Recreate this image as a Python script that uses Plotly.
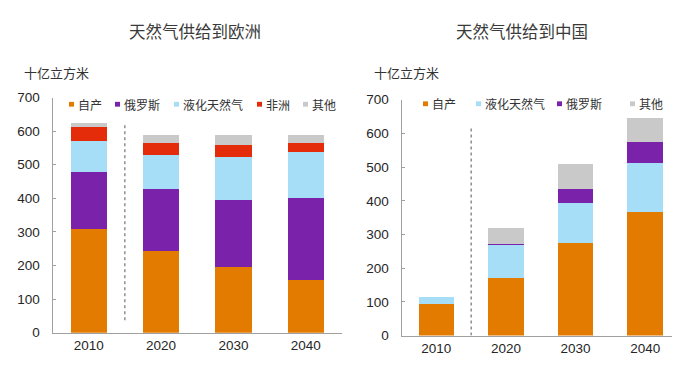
import plotly.graph_objects as go

# ---------------- data ----------------
years = ["2010", "2020", "2030", "2040"]

# Europe supply (bcm)
eu_domestic = [308, 244, 196, 158]
eu_russia = [170, 184, 199, 244]
eu_lng = [92, 100, 129, 136]
eu_africa = [42, 37, 36, 26]
eu_other = [13, 24, 29, 25]

# China supply (bcm)
cn_domestic = [95, 172, 274, 368]
cn_lng = [19, 98, 120, 143]
cn_russia = [0, 2, 40, 65]
cn_other = [0, 48, 74, 70]

yticks = [0, 100, 200, 300, 400, 500, 600, 700]

title_eu = "天然气供给到欧洲"
title_cn = "天然气供给到中国"
unit_label = "十亿立方米"

eu_names = ["自产", "俄罗斯", "液化天然气", "非洲", "其他"]
cn_names = ["自产", "液化天然气", "俄罗斯", "其他"]

# ---------------- style ----------------
C_DOM = "#E27B00"
C_RUS = "#7A22A9"
C_LNG = "#A6DEF7"
C_AFR = "#E42B0A"
C_OTH = "#C9C9C9"

FONT = "Arial, 'Liberation Sans', 'Noto Sans CJK SC', sans-serif"
CJK = "'Noto Sans CJK SC', 'Liberation Sans', sans-serif"
W, H = 680, 372

eu_series = [(eu_names[0], eu_domestic, C_DOM), (eu_names[1], eu_russia, C_RUS),
             (eu_names[2], eu_lng, C_LNG), (eu_names[3], eu_africa, C_AFR),
             (eu_names[4], eu_other, C_OTH)]
cn_series = [(cn_names[0], cn_domestic, C_DOM), (cn_names[1], cn_lng, C_LNG),
             (cn_names[2], cn_russia, C_RUS), (cn_names[3], cn_other, C_OTH)]

fig = go.Figure()
for name, vals, col in eu_series:
    fig.add_trace(go.Bar(x=years, y=vals, name=name, marker=dict(color=col, line=dict(width=0)),
                         xaxis="x", yaxis="y", showlegend=False, width=0.5))
for name, vals, col in cn_series:
    fig.add_trace(go.Bar(x=years, y=vals, name=name, marker=dict(color=col, line=dict(width=0)),
                         xaxis="x2", yaxis="y2", showlegend=False, width=0.51))

def px_x(p):
    return p / W

def px_y(p):
    return 1 - p / H

axis_common = dict(showgrid=False, zeroline=False, showline=True, linecolor="#A0A0A0", linewidth=1)
tickfont = dict(family=FONT, size=13.5, color="#262626")

fig.update_layout(
    width=W, height=H,
    margin=dict(l=0, r=0, t=0, b=0),
    paper_bgcolor="white", plot_bgcolor="white",
    barmode="stack",
    font=dict(family=FONT, size=13, color="#333333"),
    xaxis=dict(domain=[px_x(44.5), px_x(334)], range=[-0.5, 3.5], type="category",
               ticks="", ticklabelstandoff=0, tickfont=tickfont, **axis_common),
    yaxis=dict(domain=[px_y(331), px_y(86)], range=[0, 700], tickvals=yticks,
               ticks="inside", ticklen=3, tickcolor="#A0A0A0", ticklabelstandoff=9,
               tickfont=tickfont, anchor="x", **axis_common),
    xaxis2=dict(domain=[px_x(393.5), px_x(672)], range=[-0.5, 3.5], type="category",
                ticks="", ticklabelstandoff=0, tickfont=tickfont,
                anchor="y2", **axis_common),
    yaxis2=dict(domain=[px_y(334), px_y(88.3)], range=[0, 700], tickvals=yticks,
                ticks="inside", ticklen=3, tickcolor="#A0A0A0", ticklabelstandoff=9,
                tickfont=tickfont, anchor="x2", **axis_common),
)

# dotted separators between history and projections
fig.add_shape(type="line", xref="x", yref="y", x0=0.5, x1=0.5, y0=37, y1=618,
              line=dict(color="#555555", width=1, dash="dot"))
fig.add_shape(type="line", xref="x2", yref="y2", x0=0.5, x1=0.5, y0=0, y1=622,
              line=dict(color="#555555", width=1, dash="dot"))

annotations = []
# titles
annotations.append(dict(text=title_eu, x=px_x(187), y=px_y(17), xref="paper", yref="paper",
                        showarrow=False, xanchor="center", yanchor="middle",
                        font=dict(family=CJK, size=16.5, color="#3A3A3A")))
annotations.append(dict(text=title_cn, x=px_x(514), y=px_y(17), xref="paper", yref="paper",
                        showarrow=False, xanchor="center", yanchor="middle",
                        font=dict(family=CJK, size=16.5, color="#3A3A3A")))
# unit labels
annotations.append(dict(text=unit_label, x=px_x(14), y=px_y(60), xref="paper", yref="paper",
                        showarrow=False, xanchor="left", yanchor="middle",
                        font=dict(family=CJK, size=13, color="#333333")))
annotations.append(dict(text=unit_label, x=px_x(364), y=px_y(60), xref="paper", yref="paper",
                        showarrow=False, xanchor="left", yanchor="middle",
                        font=dict(family=CJK, size=13, color="#333333")))

# custom legends (small squares + text)
eu_leg_x = [69, 115, 174, 257, 303]
cn_leg_x = [423, 476, 557, 630]
shapes = []
for (name, _, col), tx in zip(eu_series, eu_leg_x):
    shapes.append(dict(type="rect", xref="paper", yref="paper", x0=px_x(tx - 8), x1=px_x(tx - 3),
                       y0=px_y(95.5), y1=px_y(90.5), fillcolor=col, line=dict(width=0)))
    annotations.append(dict(text=name, x=px_x(tx - 1), y=px_y(93), xref="paper", yref="paper",
                            showarrow=False, xanchor="left", yanchor="middle",
                            font=dict(family=CJK, size=12, color="#333333")))
for (name, _, col), tx in zip(cn_series, cn_leg_x):
    shapes.append(dict(type="rect", xref="paper", yref="paper", x0=px_x(tx - 8), x1=px_x(tx - 3),
                       y0=px_y(95), y1=px_y(90), fillcolor=col, line=dict(width=0)))
    annotations.append(dict(text=name, x=px_x(tx - 1), y=px_y(92.5), xref="paper", yref="paper",
                            showarrow=False, xanchor="left", yanchor="middle",
                            font=dict(family=CJK, size=12, color="#333333")))
for s in shapes:
    fig.add_shape(**s)
fig.update_layout(annotations=annotations)

fig.write_html("out.html")
